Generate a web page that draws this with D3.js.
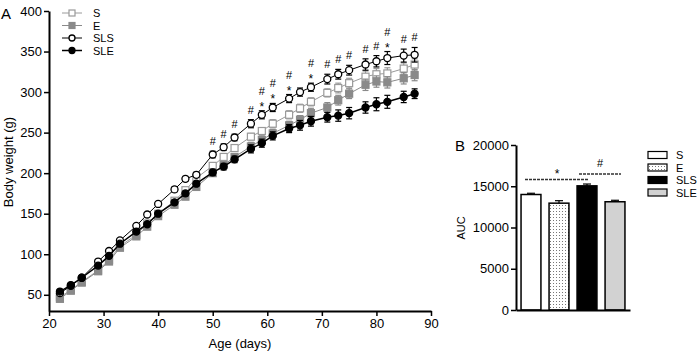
<!DOCTYPE html>
<html>
<head>
<meta charset="utf-8">
<script src="https://cdn.jsdelivr.net/npm/d3@7"></script>
<style>
  body { margin: 0; background: #fff; }
  svg { font-family: Arial, "Liberation Sans", sans-serif; }
</style>
</head>
<body>
<div id="chart"></div>
<script>
// panel A - body weight over age
const days = [22,24,26,29,31,33,36,38,40,43,45,47,50,52,54,57,59,61,64,66,68,71,73,75,78,80,82,85,87];

const sWeight   = [47,56,66,80,93,110,124,138,150,166,179,194,209,220,231,245,252,261,272,280,288,299,305,311,319,322,323,329,334];
const eWeight   = [45,55,65,79,91,108,122,134,147,161,171,183,200,210,220,233,241,249,259,266,274,281,290,298,309,313,312,317,321];
const slsWeight = [52,61,71,91,104,117,135,149,162,180,193,198,223,232,244,261,272,281,292,300,306,316,322,327,334,338,342,345,346];
const sleWeight = [54,62,71,86,98,113,128,137,150,164,175,187,201,208,217,230,237,246,255,259,264,269,271,274,281,285,288,294,298];

const sErr   = [1,1,1,1,2,2,2,2,2,3,3,3,3,4,4,4,4,5,5,5,5,5,6,6,7,7,7,7,7];
const eErr   = [1,1,1,1,2,2,2,2,3,3,3,3,4,4,4,5,5,5,5,5,6,6,6,6,7,7,7,7,7];
const slsErr = [1,1,1,2,2,2,2,2,3,3,3,3,4,4,4,5,5,5,5,5,5,6,6,6,7,7,8,8,9];
const sleErr = [1,1,1,1,2,2,2,2,3,3,3,3,4,4,4,5,5,5,5,6,6,6,7,7,7,8,8,7,6];

// significance marks above SLS points ("" = none)
const hashMarks = ["","","","","","","","","","","","","#","#","#","#","#","#","#","","#","#","#","#","#","#","#","#","#"];
const starMarks = ["","","","","","","","","","","","","","","","","*","*","*","","*","","","","","","*","",""];

const ticksXA = [20,30,40,50,60,70,80,90];
const ticksYA = [50,100,150,200,250,300,350,400];

// panel B - AUC
const groups = ["S","E","SLS","SLE"];
const aucMean = [14000,12950,15050,13120];
const aucErr  = [150,300,220,180];
const ticksYB = [0,5000,10000,15000,20000];

const svg = d3.select("#chart").append("svg")
  .attr("width", 700)
  .attr("height", 353);

// dotted fill for E bar
const defs = svg.append("defs");
const pat = defs.append("pattern")
  .attr("id", "dots")
  .attr("patternUnits", "userSpaceOnUse")
  .attr("width", 3).attr("height", 3);
pat.append("rect").attr("width", 3).attr("height", 3).attr("fill", "#fff");
pat.append("rect").attr("x", 1).attr("y", 1).attr("width", 1).attr("height", 1).attr("fill", "#777");

const x = d3.scaleLinear().domain([20, 90]).range([49, 431]);
const y = d3.scaleLinear().domain([30, 400]).range([311, 11]);

function styleAxis(g) {
  g.select(".domain").attr("stroke", "#000").attr("stroke-width", 2);
  g.selectAll(".tick line").attr("stroke", "#000").attr("stroke-width", 1.5);
  g.selectAll(".tick text").attr("fill", "#000").style("font-size", "13px")
    .style("font-family", "Arial, 'Liberation Sans', sans-serif");
}

svg.append("g")
  .attr("transform", "translate(0,311)")
  .call(d3.axisBottom(x).tickValues(ticksXA).tickSize(5).tickSizeOuter(0).tickPadding(3))
  .call(styleAxis);

svg.append("g")
  .attr("transform", "translate(49,0)")
  .call(d3.axisLeft(y).tickValues(ticksYA).tickSize(5).tickSizeOuter(0).tickPadding(2))
  .call(styleAxis);

svg.append("text").attr("x", 240).attr("y", 348).attr("text-anchor", "middle")
  .style("font-size", "13px").text("Age (days)");
svg.append("text").attr("transform", "translate(13,162) rotate(-90)").attr("text-anchor", "middle")
  .style("font-size", "13px").text("Body weight (g)");
svg.append("text").attr("x", 1).attr("y", 19).style("font-size", "15px").text("A");

const series = [
  {name: "S",   vals: sWeight,   err: sErr,   line: "#9a9a9a", lw: 1,   shape: "square", fill: "#fff",    stroke: "#9a9a9a"},
  {name: "E",   vals: eWeight,   err: eErr,   line: "#8a8a8a", lw: 1,   shape: "square", fill: "#8a8a8a", stroke: "#8a8a8a"},
  {name: "SLS", vals: slsWeight, err: slsErr, line: "#000",    lw: 1,   shape: "circle", fill: "#fff",    stroke: "#000"},
  {name: "SLE", vals: sleWeight, err: sleErr, line: "#000",    lw: 1.5, shape: "circle", fill: "#000",    stroke: "#000"}
];

function marker(g, s, cx, cy, sz) {
  const r = sz || 3.5;
  if (s.shape === "circle") {
    g.append("circle").attr("cx", cx).attr("cy", cy).attr("r", r)
      .attr("fill", s.fill).attr("stroke", s.stroke).attr("stroke-width", 1.3);
  } else {
    g.append("rect").attr("x", cx - r).attr("y", cy - r).attr("width", 2 * r).attr("height", 2 * r)
      .attr("fill", s.fill).attr("stroke", s.stroke).attr("stroke-width", 1.2);
  }
}

const line = d3.line().x((d, i) => x(days[i])).y(d => y(d));

series.forEach(s => {
  const g = svg.append("g");
  g.append("path").datum(s.vals).attr("d", line)
    .attr("fill", "none").attr("stroke", s.line).attr("stroke-width", s.lw);
  s.vals.forEach((v, i) => {
    const cx = x(days[i]);
    const y1 = y(v + s.err[i]), y2 = y(v - s.err[i]);
    g.append("line").attr("x1", cx).attr("x2", cx).attr("y1", y1).attr("y2", y2)
      .attr("stroke", s.line).attr("stroke-width", 1.2);
    [y1, y2].forEach(yy => g.append("line").attr("x1", cx - 3).attr("x2", cx + 3)
      .attr("y1", yy).attr("y2", yy).attr("stroke", s.line).attr("stroke-width", 1.2));
  });
  s.vals.forEach((v, i) => marker(g, s, x(days[i]), y(v)));
});

// # and * above SLS
days.forEach((d, i) => {
  const top = y(slsWeight[i] + slsErr[i]);
  let off = 6;
  if (starMarks[i]) {
    svg.append("text").attr("x", x(d)).attr("y", top - off + 6).attr("text-anchor", "middle")
      .attr("fill", "#000").style("font-size", "12px").text(starMarks[i]);
    off += 10;
  }
  if (hashMarks[i]) {
    svg.append("text").attr("x", x(d)).attr("y", top - off).attr("text-anchor", "middle")
      .attr("fill", "#000").style("font-size", "11px").text(hashMarks[i]);
  }
});

// legend A
series.forEach((s, i) => {
  const ly = 13 + i * 12.5;
  const g = svg.append("g");
  g.append("line").attr("x1", 62).attr("x2", 82).attr("y1", ly).attr("y2", ly)
    .attr("stroke", s.line).attr("stroke-width", s.lw);
  marker(g, s, 72, ly, 3);
  g.append("text").attr("x", 93).attr("y", ly + 4).style("font-size", "11px").text(s.name);
});

// panel B
const xb = d3.scaleBand().domain(groups).range([516, 630]).paddingInner(0.29).paddingOuter(0.18);
const yb = d3.scaleLinear().domain([0, 20000]).range([310, 145]);

const barFill = ["#fff", "url(#dots)", "#000", "#d2d2d2"];

svg.append("g").selectAll("rect").data(groups).join("rect")
  .attr("x", d => xb(d)).attr("width", xb.bandwidth())
  .attr("y", (d, i) => yb(aucMean[i])).attr("height", (d, i) => yb(0) - yb(aucMean[i]))
  .attr("fill", (d, i) => barFill[i]).attr("stroke", "#000").attr("stroke-width", 1.5);

groups.forEach((gname, i) => {
  const cx = xb(gname) + xb.bandwidth() / 2;
  const yt = yb(aucMean[i] + aucErr[i]);
  svg.append("line").attr("x1", cx).attr("x2", cx).attr("y1", yt).attr("y2", yb(aucMean[i]))
    .attr("stroke", "#000").attr("stroke-width", 1.2);
  svg.append("line").attr("x1", cx - 4).attr("x2", cx + 4).attr("y1", yt).attr("y2", yt)
    .attr("stroke", "#000").attr("stroke-width", 1.2);
});

svg.append("g")
  .attr("transform", "translate(0,310)")
  .call(d3.axisBottom(xb).tickSize(0).tickFormat(""))
  .call(styleAxis);

svg.append("g")
  .attr("transform", "translate(516,0)")
  .call(d3.axisLeft(yb).tickValues(ticksYB).tickFormat(d3.format("d")).tickSize(5).tickSizeOuter(0).tickPadding(2))
  .call(styleAxis);

svg.append("text").attr("transform", "translate(465,228) rotate(-90)").attr("text-anchor", "middle")
  .style("font-size", "11px").text("AUC");
svg.append("text").attr("x", 455).attr("y", 151).style("font-size", "15px").text("B");

// significance bars
svg.append("line").attr("x1", 525).attr("x2", 588).attr("y1", 179.5).attr("y2", 179.5)
  .attr("stroke", "#333").attr("stroke-width", 1.3).attr("stroke-dasharray", "3,1");
svg.append("text").attr("x", 557).attr("y", 178).attr("text-anchor", "middle")
  .attr("fill", "#000").style("font-size", "12px").text("*");
svg.append("line").attr("x1", 579).attr("x2", 621).attr("y1", 174).attr("y2", 174)
  .attr("stroke", "#333").attr("stroke-width", 1.3).attr("stroke-dasharray", "3,1");
svg.append("text").attr("x", 600).attr("y", 167).attr("text-anchor", "middle")
  .attr("fill", "#000").style("font-size", "11px").text("#");

// legend B
groups.forEach((gname, i) => {
  const ly = 155 + i * 12.5;
  svg.append("rect").attr("x", 648).attr("y", ly - 3.5).attr("width", 19).attr("height", 7)
    .attr("fill", barFill[i]).attr("stroke", "#000").attr("stroke-width", 1.2);
  svg.append("text").attr("x", 676).attr("y", ly + 4).style("font-size", "11px").text(gname);
});
</script>
</body>
</html>
